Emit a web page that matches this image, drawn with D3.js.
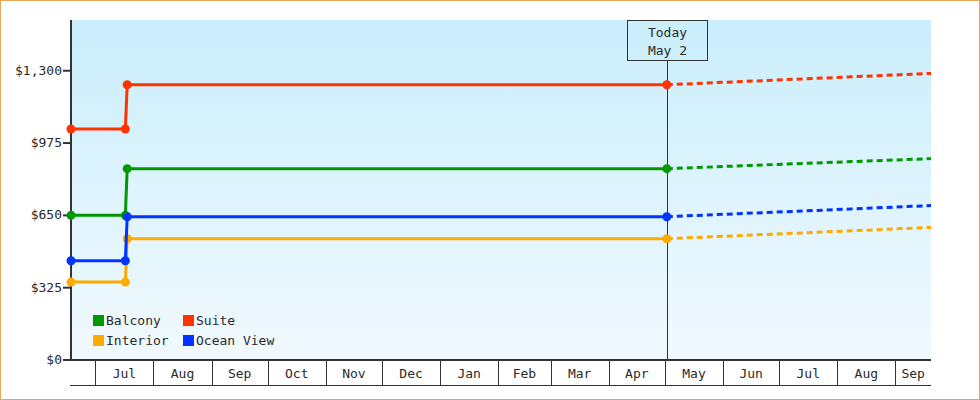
<!DOCTYPE html>
<html>
<head>
<meta charset="utf-8">
<script src="https://cdn.jsdelivr.net/npm/d3@7"></script>
<style>
  body { margin: 0; background: #fff; }
  svg { display: block; }
  text { font-family: "DejaVu Sans Mono", "Liberation Mono", monospace; font-size: 13px; fill: #2a2a2a; }
</style>
</head>
<body>
<div id="vis"></div>
<script>
// data
const SERIES = ["Balcony", "Suite", "Interior", "Ocean View"];
const COLORS = ["#009900", "#ff3300", "#ffaa00", "#0033ff"];

const HIST_DATES = ["2022-06-18", "2022-07-17", "2022-07-18", "2023-05-02"];
const BALCONY_HIST = [650, 650, 860, 860];
const SUITE_HIST = [1038, 1038, 1237, 1237];
const INTERIOR_HIST = [350, 350, 545, 545];
const OCEAN_HIST = [446, 446, 644, 644];

const FCST_DATES = ["2023-05-02", "2023-09-20"];
const BALCONY_FCST = [860, 905];
const SUITE_FCST = [1237, 1288];
const INTERIOR_FCST = [545, 596];
const OCEAN_FCST = [644, 694];

const Y_TICKS = [0, 325, 650, 975, 1300];
const TODAY = "2023-05-02";
const TODAY_LABEL = ["Today", "May 2"];
const X_START = "2022-06-18";
const X_END = "2023-09-20";

const WIDTH = 980, HEIGHT = 400;
const MARGINS = {left: 71, right: 49, top: 20, bottom: 40};

const parse = d3.timeParse("%Y-%m-%d");
const hist = [BALCONY_HIST, SUITE_HIST, INTERIOR_HIST, OCEAN_HIST];
const fcst = [BALCONY_FCST, SUITE_FCST, INTERIOR_FCST, OCEAN_FCST];

const svg = d3.select("#vis").append("svg")
  .attr("width", WIDTH)
  .attr("height", HEIGHT);

// outer border
svg.append("rect")
  .attr("x", 0.5).attr("y", 0.5)
  .attr("width", WIDTH - 1).attr("height", HEIGHT - 1)
  .attr("fill", "#fff")
  .attr("stroke", "#e8a85c");

const x = d3.scaleTime()
  .domain([parse(X_START), parse(X_END)])
  .range([MARGINS.left, WIDTH - MARGINS.right]);

const y = d3.scaleLinear()
  .domain([0, 1528])
  .range([HEIGHT - MARGINS.bottom, MARGINS.top]);

// background gradient
const grad = svg.append("defs").append("linearGradient")
  .attr("id", "bg").attr("x1", 0).attr("y1", 0).attr("x2", 0).attr("y2", 1);
grad.append("stop").attr("offset", "0%").attr("stop-color", "#caeefc");
grad.append("stop").attr("offset", "100%").attr("stop-color", "#f1f9fe");

svg.append("rect")
  .attr("x", x.range()[0]).attr("y", y.range()[1])
  .attr("width", x.range()[1] - x.range()[0])
  .attr("height", y.range()[0] - y.range()[1])
  .attr("fill", "url(#bg)");

// month band axis
const xr = x.range();
const bandTop = y(0), bandBot = y(0) + 25;
const months = d3.timeMonth.range(d3.timeMonth.ceil(x.domain()[0]), x.domain()[1]);
const edges = [xr[0]].concat(months.map(m => x(m))).concat([xr[1]]);

const xa = svg.append("g");
xa.selectAll("line.sep")
  .data(months)
  .enter().append("line")
    .attr("x1", d => Math.round(x(d)) + 0.5).attr("x2", d => Math.round(x(d)) + 0.5)
    .attr("y1", bandTop).attr("y2", bandBot)
    .attr("stroke", "#333");
xa.append("line")
  .attr("x1", xr[0] - 1).attr("x2", xr[1])
  .attr("y1", bandBot + 0.5).attr("y2", bandBot + 0.5)
  .attr("stroke", "#333");

const fmtMonth = d3.timeFormat("%b");
xa.selectAll("text")
  .data(edges.slice(0, -1).map((e, i) => ({a: e, b: edges[i + 1], m: i > 0 ? months[i - 1] : null})))
  .enter().filter(d => d.m !== null).append("text")
    .attr("x", d => (d.a + d.b) / 2)
    .attr("y", bandTop + 18)
    .attr("text-anchor", "middle")
    .text(d => fmtMonth(d.m));

// y axis
const ya = svg.append("g");
ya.selectAll("line")
  .data(Y_TICKS)
  .enter().append("line")
    .attr("x1", xr[0] - 8).attr("x2", xr[0])
    .attr("y1", d => y(d)).attr("y2", d => y(d))
    .attr("stroke", "#333").attr("stroke-width", 2);
ya.selectAll("text")
  .data(Y_TICKS)
  .enter().append("text")
    .attr("x", xr[0] - 9)
    .attr("y", d => y(d) + 4)
    .attr("text-anchor", "end")
    .text(d => d3.format("$,")(d));
svg.append("line")
  .attr("x1", xr[0]).attr("x2", xr[0])
  .attr("y1", y.range()[1]).attr("y2", y(0) + 1)
  .attr("stroke", "#333").attr("stroke-width", 2);
svg.append("line")
  .attr("x1", xr[0]).attr("x2", xr[1])
  .attr("y1", y(0)).attr("y2", y(0))
  .attr("stroke", "#333").attr("stroke-width", 2);

// today marker
const tx = Math.round(x(parse(TODAY))) + 0.5;
svg.append("line")
  .attr("x1", tx).attr("x2", tx)
  .attr("y1", y.range()[1] + 40).attr("y2", y(0))
  .attr("stroke", "#333");
svg.append("rect")
  .attr("x", tx - 40).attr("y", y.range()[1] + 0.5)
  .attr("width", 80).attr("height", 40)
  .attr("fill", "none").attr("stroke", "#333");
svg.selectAll("text.today")
  .data(TODAY_LABEL)
  .enter().append("text")
    .attr("class", "today")
    .attr("x", tx).attr("y", (d, i) => y.range()[1] + 17 + i * 18)
    .attr("text-anchor", "middle")
    .text(d => d);

// series
const line = d3.line().x(d => x(d.date)).y(d => y(d.v));

SERIES.forEach((name, s) => {
  const h = HIST_DATES.map((d, i) => ({date: parse(d), v: hist[s][i]}));
  const f = FCST_DATES.map((d, i) => ({date: parse(d), v: fcst[s][i]}));
  const g = svg.append("g");
  g.append("path")
    .datum(f)
    .attr("d", line)
    .attr("fill", "none")
    .attr("stroke", COLORS[s])
    .attr("stroke-width", 3)
    .attr("stroke-dasharray", "6,4");
  g.append("path")
    .datum(h)
    .attr("d", line)
    .attr("fill", "none")
    .attr("stroke", COLORS[s])
    .attr("stroke-width", 3);
  g.selectAll("circle")
    .data(h)
    .enter().append("circle")
      .attr("cx", d => x(d.date))
      .attr("cy", d => y(d.v))
      .attr("r", 4.5)
      .attr("fill", COLORS[s]);
});

// legend
const legend = svg.append("g").attr("transform", "translate(93,315)");
const items = legend.selectAll("g")
  .data(SERIES)
  .enter().append("g")
    .attr("transform", (d, i) => "translate(" + (i % 2) * 90 + "," + Math.floor(i / 2) * 20 + ")");
items.append("rect")
  .attr("width", 11).attr("height", 11)
  .attr("fill", (d, i) => COLORS[i]);
items.append("text")
  .attr("x", 13).attr("y", 10)
  .text(d => d);
</script>
</body>
</html>
